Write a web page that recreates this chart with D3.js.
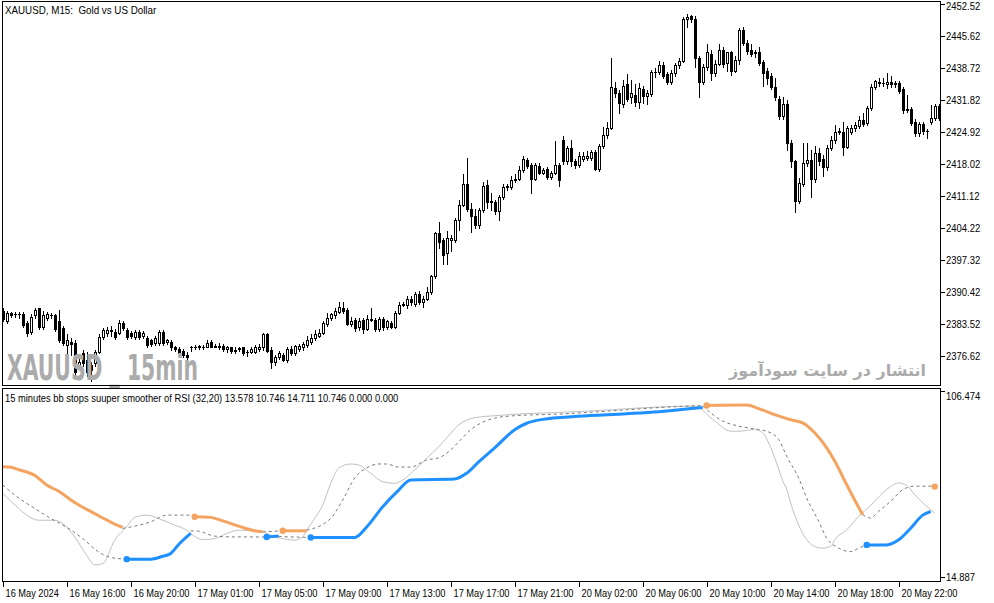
<!DOCTYPE html>
<html><head><meta charset="utf-8">
<script src="https://cdn.jsdelivr.net/npm/d3@7"></script>
<style>
html,body{margin:0;padding:0;background:#fff;}
svg{display:block;font-family:"Liberation Sans",Arial,sans-serif;}
text{white-space:pre;}
</style></head><body>
<svg id="c" width="994" height="603"></svg>
<script>
// ---------- DATA ----------
const symbolTitle = "XAUUSD, M15:  Gold vs US Dollar";
const indicatorTitle = "15 minutes bb stops suuper smoother of RSI (32,20) 13.578 10.746 14.711 10.746 0.000 0.000";
const watermarkLeft = "XAUUSD _ 15min";
const watermarkRight = "انتشار در سایت سودآموز";

const timeTickBars = [0,16,32,48,64,80,96,112,128,144,160,176,192,208,224];
const timeLabels = ["16 May 2024","16 May 16:00","16 May 20:00","17 May 01:00","17 May 05:00","17 May 09:00","17 May 13:00","17 May 17:00","17 May 21:00","20 May 02:00","20 May 06:00","20 May 10:00","20 May 14:00","20 May 18:00","20 May 22:00"];
const priceTicks = [2452.52,2445.62,2438.72,2431.82,2424.92,2418.02,2411.12,2404.22,2397.32,2390.42,2383.52,2376.62];
const indicatorTicks = [106.474,14.887];

// open, high, low, close per 15-minute bar
const ohlc = [
[2386.3,2387.0,2384.2,2384.6],[2384.2,2386.3,2383.7,2385.9],[2385.9,2386.1,2385.0,2385.5],[2385.7,2386.1,2385.0,2385.6],[2385.7,2386.1,2384.8,2385.6],
[2385.7,2386.1,2382.9,2383.3],[2383.7,2384.2,2380.9,2381.6],[2381.8,2385.7,2381.4,2385.0],[2385.3,2387.0,2384.8,2386.5],[2386.8,2387.0,2382.4,2382.9],
[2382.9,2386.3,2382.4,2385.5],[2384.8,2386.1,2384.4,2385.7],[2385.5,2385.9,2384.8,2385.4],[2385.3,2385.7,2382.0,2382.4],[2384.2,2386.5,2379.6,2380.1],
[2382.7,2383.1,2379.0,2379.4],[2379.0,2381.2,2375.1,2379.9],[2379.6,2380.5,2376.8,2379.2],[2379.4,2379.9,2372.5,2373.0],[2374.7,2376.2,2374.0,2375.3],
[2377.3,2377.9,2374.5,2375.1],[2375.8,2377.5,2372.3,2373.0],[2374.7,2375.3,2371.2,2373.6],[2375.1,2377.9,2374.5,2377.5],[2377.5,2381.2,2377.1,2380.7],
[2380.7,2382.7,2380.3,2382.2],[2381.6,2382.9,2380.9,2382.2],[2382.0,2383.1,2380.9,2382.1],[2381.8,2382.4,2380.3,2380.7],[2381.6,2384.4,2381.2,2383.7],
[2383.7,2384.2,2382.2,2382.7],[2382.2,2382.7,2380.3,2380.7],[2381.6,2382.0,2380.5,2380.9],[2380.7,2382.2,2380.3,2381.8],[2381.8,2382.2,2380.3,2380.7],
[2380.9,2382.0,2380.5,2381.6],[2380.5,2380.9,2378.6,2379.0],[2379.9,2380.3,2378.8,2379.2],[2379.4,2380.9,2379.0,2380.5],[2379.4,2382.2,2379.0,2381.8],
[2381.8,2382.2,2379.0,2379.4],[2379.6,2380.3,2379.2,2379.9],[2379.6,2380.1,2377.9,2378.4],[2378.4,2378.8,2377.7,2378.1],[2378.1,2378.6,2376.8,2377.3],
[2377.7,2378.1,2376.4,2376.8],[2376.8,2377.5,2375.8,2376.4],[2378.4,2378.8,2377.7,2378.5],[2378.6,2379.0,2378.1,2378.6],[2378.5,2379.0,2378.1,2378.7],
[2378.6,2379.0,2378.1,2378.6],[2378.6,2379.9,2378.4,2379.4],[2379.6,2379.9,2378.4,2378.6],[2378.6,2379.2,2378.4,2378.8],[2378.8,2379.4,2378.1,2378.6],
[2378.8,2379.2,2377.7,2378.1],[2378.1,2378.8,2377.5,2378.4],[2378.4,2378.6,2377.3,2377.7],[2377.7,2378.4,2377.1,2377.9],[2378.1,2378.6,2377.7,2378.2],
[2378.4,2378.6,2376.8,2377.3],[2377.5,2377.9,2376.6,2377.4],[2377.5,2378.6,2377.1,2378.1],[2377.5,2379.0,2377.1,2378.6],[2378.1,2379.2,2377.7,2378.6],
[2378.4,2381.6,2377.9,2381.2],[2381.2,2381.6,2377.5,2377.7],[2377.9,2378.6,2374.0,2375.3],[2375.3,2376.8,2374.7,2376.4],[2376.4,2377.7,2376.0,2377.1],
[2376.8,2377.3,2375.5,2375.8],[2375.8,2378.4,2375.3,2378.1],[2378.1,2378.8,2376.8,2377.1],[2377.3,2379.0,2376.8,2378.8],[2378.1,2379.2,2377.7,2378.8],
[2378.4,2379.6,2377.9,2379.2],[2379.0,2380.9,2378.6,2380.1],[2379.6,2381.2,2379.2,2380.5],[2380.5,2382.2,2380.1,2381.4],[2380.9,2382.4,2380.7,2381.6],
[2381.6,2384.2,2381.2,2383.7],[2383.5,2385.9,2383.1,2384.8],[2384.8,2385.9,2384.4,2385.7],[2385.5,2386.8,2384.8,2386.3],[2386.1,2388.1,2385.9,2387.2],
[2387.0,2388.1,2385.9,2386.3],[2386.5,2386.8,2383.3,2383.5],[2383.5,2385.0,2383.1,2384.2],[2384.4,2384.8,2382.0,2382.7],[2382.9,2384.8,2382.2,2384.2],
[2384.4,2384.8,2381.6,2382.4],[2382.4,2385.3,2382.2,2384.6],[2384.4,2387.0,2384.2,2384.5],[2384.4,2384.8,2382.0,2382.4],[2382.4,2385.0,2382.0,2384.6],
[2384.6,2385.0,2382.2,2382.9],[2382.9,2384.4,2382.4,2384.0],[2383.7,2384.2,2382.7,2382.9],[2382.9,2386.3,2382.7,2385.9],[2385.9,2388.1,2385.7,2387.6],
[2387.6,2388.1,2387.4,2387.8],[2387.6,2389.6,2387.0,2388.9],[2388.9,2389.6,2387.6,2388.1],[2387.8,2390.4,2387.4,2390.0],[2390.0,2390.6,2387.8,2388.3],
[2388.3,2389.6,2387.2,2388.9],[2388.9,2391.5,2388.7,2390.4],[2390.4,2394.1,2390.0,2393.7],[2393.7,2403.4,2393.4,2403.1],[2403.1,2405.5,2399.9,2401.2],
[2401.6,2402.1,2396.3,2398.4],[2398.8,2403.6,2396.3,2401.9],[2401.6,2402.7,2399.1,2402.1],[2401.6,2406.4,2401.2,2405.9],[2405.9,2410.3,2403.8,2409.2],
[2409.2,2415.9,2409.0,2413.7],[2413.7,2419.3,2407.9,2408.3],[2408.3,2409.6,2403.4,2406.8],[2406.8,2408.3,2404.2,2404.9],[2404.9,2408.5,2404.2,2408.1],
[2408.1,2414.1,2407.7,2413.3],[2413.5,2414.6,2408.5,2409.8],[2409.8,2411.6,2408.1,2409.9],[2409.8,2410.3,2407.2,2407.9],[2407.9,2411.3,2405.9,2410.9],
[2410.9,2413.7,2410.5,2413.1],[2412.9,2413.7,2412.4,2413.3],[2413.1,2415.4,2412.6,2414.6],[2414.6,2415.7,2414.1,2414.8],[2414.8,2417.6,2414.4,2416.7],
[2416.7,2419.7,2416.3,2419.1],[2418.9,2419.3,2417.2,2417.6],[2417.8,2418.2,2411.8,2414.8],[2414.8,2418.2,2414.4,2417.8],[2417.6,2418.2,2415.7,2416.1],
[2416.1,2417.2,2415.7,2416.7],[2416.9,2417.4,2414.8,2415.2],[2415.2,2416.5,2414.8,2416.1],[2416.1,2423.0,2415.7,2417.8],[2417.8,2418.2,2413.3,2414.4],
[2423.2,2424.1,2418.0,2418.5],[2418.5,2421.9,2418.0,2421.3],[2421.3,2423.2,2417.6,2418.5],[2418.7,2419.1,2417.2,2417.8],[2417.8,2420.6,2417.4,2419.7],
[2419.1,2420.6,2418.7,2419.7],[2419.3,2420.8,2418.9,2419.7],[2419.3,2421.0,2418.9,2420.6],[2420.6,2421.0,2416.7,2416.9],[2416.9,2422.3,2416.5,2421.9],
[2421.9,2426.0,2421.5,2424.3],[2424.3,2427.1,2423.6,2425.8],[2425.8,2440.9,2425.6,2434.6],[2434.4,2435.7,2432.5,2433.3],[2433.3,2434.0,2429.0,2431.2],
[2431.0,2436.1,2430.3,2434.8],[2435.1,2437.4,2431.6,2432.0],[2432.3,2436.1,2431.2,2433.3],[2432.9,2435.1,2430.5,2431.4],[2431.4,2435.5,2430.1,2434.4],
[2434.2,2434.8,2431.2,2432.7],[2432.7,2434.0,2431.0,2433.3],[2433.1,2438.3,2432.7,2437.9],[2437.9,2438.7,2436.8,2437.8],[2437.9,2440.2,2437.4,2439.4],
[2439.4,2440.0,2436.6,2437.0],[2437.4,2437.9,2435.1,2435.7],[2435.7,2438.3,2435.1,2437.6],[2437.6,2439.8,2437.0,2439.2],[2439.2,2440.9,2438.7,2440.2],
[2440.2,2449.7,2440.0,2449.3],[2449.3,2450.4,2447.6,2449.7],[2449.9,2450.1,2448.6,2449.3],[2449.3,2449.9,2438.9,2440.9],[2440.9,2441.3,2432.5,2435.7],
[2435.7,2439.6,2435.3,2438.9],[2438.9,2443.9,2438.3,2442.0],[2441.7,2442.6,2436.1,2437.6],[2437.6,2440.4,2437.0,2439.6],[2439.6,2443.9,2439.2,2442.6],
[2442.6,2443.2,2438.9,2439.6],[2439.8,2442.2,2438.1,2442.0],[2442.0,2442.4,2437.2,2438.1],[2438.1,2441.3,2437.9,2440.4],[2440.4,2447.3,2439.6,2446.9],
[2446.9,2447.6,2443.7,2444.1],[2444.1,2444.8,2441.7,2442.4],[2442.6,2443.9,2441.3,2441.7],[2442.0,2442.6,2441.1,2441.8],[2442.0,2443.2,2439.4,2439.8],
[2440.0,2440.4,2434.8,2437.6],[2438.1,2438.7,2435.1,2436.6],[2437.0,2437.6,2434.2,2434.6],[2434.6,2436.6,2431.8,2432.3],[2432.0,2432.7,2427.7,2428.2],
[2428.2,2432.3,2427.7,2431.0],[2431.0,2431.8,2421.0,2422.5],[2422.5,2423.2,2417.4,2418.5],[2418.5,2418.9,2407.7,2410.0],[2410.0,2415.0,2409.6,2413.9],
[2413.7,2422.5,2413.3,2418.2],[2418.2,2422.5,2417.6,2418.9],[2418.9,2421.0,2410.9,2414.8],[2414.8,2421.9,2414.1,2420.4],[2420.4,2421.5,2417.8,2418.5],
[2419.1,2420.0,2415.4,2417.4],[2417.4,2422.1,2416.7,2421.5],[2421.5,2424.1,2421.0,2423.2],[2423.2,2426.4,2422.5,2424.9],[2424.9,2425.8,2424.5,2425.1],
[2424.9,2427.1,2420.0,2421.7],[2421.7,2426.2,2421.3,2425.8],[2424.9,2426.4,2424.5,2425.8],[2425.8,2427.1,2425.1,2426.4],[2426.2,2428.4,2425.8,2427.5],
[2427.5,2429.0,2426.2,2426.6],[2426.9,2430.5,2426.4,2430.1],[2430.1,2435.3,2429.7,2434.6],[2434.6,2436.1,2434.2,2435.9],[2435.5,2436.4,2434.8,2435.7],
[2435.5,2436.6,2434.8,2435.4],[2435.1,2437.6,2434.4,2435.7],[2435.7,2437.0,2434.6,2435.1],[2435.1,2435.9,2434.6,2435.5],[2435.5,2435.9,2433.3,2433.8],
[2434.2,2434.6,2429.0,2429.7],[2429.9,2432.9,2429.2,2429.6],[2429.9,2430.3,2426.4,2426.9],[2427.1,2427.7,2424.1,2424.7],[2424.7,2427.1,2424.1,2426.6],
[2426.6,2427.1,2424.5,2425.1],[2425.1,2425.6,2423.6,2425.0],[2427.1,2430.7,2426.6,2427.9],[2427.9,2431.0,2427.5,2430.5],[2430.5,2431.0,2427.5,2427.9]
];

// indicator: smoothed RSI (solid grey), [bar, value]
const rsiSmoothed = [[0,56.1],[4,48.7],[6,45.4],[9,42.9],[13,42.9],[15,41.3],[18,34.7],[21,25.7],[23,21.0],[25,21.6],[28,33.1],[31,39.7],[33,44.3],[36,45.4],[40,42.9],[43,40.5],[46,38.0],[48,34.9],[50,33.4],[53,33.9],[56,36.4],[59,38.0],[63,37.7],[66,36.4],[68,34.7],[71,33.6],[73,33.1],[75,34.7],[76,38.0],[78,43.8],[80,50.3],[82,61.0],[84,68.4],[87,70.5],[89,70.0],[92,65.9],[95,61.8],[98,61.0],[100,62.6],[103,67.6],[106,73.3],[109,79.0],[111,83.3],[114,89.7],[118,93.2],[123,94.2],[131,95.2],[139,95.8],[152,97.1],[160,98.1],[173,98.9],[178,91.6],[182,86.6],[184,86.6],[188,87.4],[190,85.8],[192,78.5],[194,68.0],[195,62.2],[196,58.2],[197,51.3],[199,40.5],[200,36.5],[203,30.0],[205,29.2],[207,30.0],[208,33.3],[211,38.2],[214,44.8],[217,50.2],[220,56.3],[222,59.5],[224,61.2],[226,60.0],[228,55.4],[231,49.7],[233,46.4]];

// indicator: opposite band (dashed), one array per trend leg
const bandLegs = [
[[0,60.2],[3,55.3],[8,48.7],[12,43.8],[16,39.4],[20,33.9],[24,27.3],[27,24.6],[31,23.8]],
[[30,38.9],[33,40.0],[37,42.1],[41,45.4],[47,45.4],[48,44.6]],
[[47,37.7],[49,37.5],[53,35.1],[58,34.7],[66,34.7]],
[[65,37.2],[70,37.7]],
[[69,34.9],[77,34.4]],
[[76,38.0],[82,43.8],[85,52.8],[88,63.6],[91,68.6],[94,70.5],[96,70.5],[99,69.0],[102,69.0],[106,72.5],[109,73.5],[112,77.4],[114,81.4],[117,87.3],[123,93.0],[128,94.2],[139,95.0],[156,97.1],[164,98.2],[175,99.2]],
[[175,98.9],[180,91.6],[184,89.1],[189,87.4],[191,86.6],[194,82.5],[196,74.3],[199,63.6],[201,53.8],[204,42.3],[206,34.1],[209,29.2],[212,27.5],[214,29.2],[216,30.8]],
[[215,45.6],[217,44.0],[219,47.3],[222,52.2],[225,57.9],[228,59.6],[233,59.6]]
];

// indicator: stop line while trend is down
const stopDown = [
[[0,69.2],[2,68.9],[4,67.7],[8,64.9],[11,60.2],[14,57.1],[18,51.6],[21,48.2],[24,45.1],[28,41.0],[30,39.4]],
[[48,44.6],[52,44.3],[55,42.6],[59,40.0],[63,37.7],[65,37.2]],
[[70,37.7],[76,37.7]],
[[176,99.2],[186,99.4],[189,97.7],[193,94.7],[197,92.2],[200,90.7],[203,85.8],[206,78.4],[208,72.0],[211,60.3],[213,52.8],[215,45.6]],
[[233,59.4]]
];
// indicator: stop line while trend is up
const stopUp = [
[[31,23.8],[37,23.8],[40,25.2],[42,26.6],[44,31.0],[47,36.4]],
[[66,34.7],[69,35.1]],
[[77,34.4],[88,34.4],[91,39.6],[95,49.5],[99,57.7],[102,62.7],[113,63.1],[116,66.0],[119,71.5],[123,78.4],[128,87.3],[131,90.5],[135,92.4],[144,93.9],[156,95.2],[164,96.2],[175,98.2]],
[[216,30.8],[221,30.8],[224,33.3],[227,39.0],[230,45.4],[232,47.2]]
];

// ---------- DRAW ----------
const svg = d3.select("#c");
const FONT = 11;
const x = d3.scaleLinear().domain([0, 234]).range([2.7, 938.7]);
const yP = d3.scaleLinear().domain([2376.62, 2452.52]).range([355.7, 3.7]);
const yI = d3.scaleLinear().domain([14.887, 106.474]).range([577.3, 390.7]);

// narrow a text to mimic the terminal's compact UI font
function squeeze(sel, f){
  sel.each(function(){
    const len = this.getComputedTextLength();
    d3.select(this).attr("textLength", (len*f).toFixed(1)).attr("lengthAdjust","spacingAndGlyphs");
  });
  return sel;
}

const defs = svg.append("defs");
defs.append("clipPath").attr("id","clipMain").append("rect").attr("x",3).attr("y",2).attr("width",937).attr("height",383);
defs.append("clipPath").attr("id","clipInd").append("rect").attr("x",3).attr("y",389).attr("width",937).attr("height",192);

// candles
const gC = svg.append("g").attr("clip-path","url(#clipMain)").attr("shape-rendering","crispEdges");
ohlc.forEach((d,i)=>{
  const [o,h,l,c] = d;
  const cx = Math.round(x(i));
  const yh = Math.round(yP(h)), yl = Math.round(yP(l));
  const top = Math.round(yP(Math.max(o,c))), bot = Math.round(yP(Math.min(o,c)));
  gC.append("rect").attr("x",cx).attr("y",yh).attr("width",1).attr("height",Math.max(1,yl-yh+1)).attr("fill","#000");
  gC.append("rect").attr("x",cx-1).attr("y",top).attr("width",3).attr("height",Math.max(1,bot-top+1)).attr("fill","#000");
  if (c>o && bot-top>=2) {
    gC.append("rect").attr("x",cx).attr("y",top+1).attr("width",1).attr("height",bot-top-1).attr("fill","#fff");
  }
});

// watermarks
svg.append("text").attr("x",7).attr("y",380).text(watermarkLeft)
  .attr("font-family","'DejaVu Sans Condensed','DejaVu Sans',sans-serif").attr("font-weight","bold")
  .attr("font-size",35).attr("textLength",191).attr("lengthAdjust","spacingAndGlyphs").attr("fill","#ababab");
svg.append("text").attr("x",926).attr("y",376).text(watermarkRight)
  .attr("font-family","'DejaVu Sans',sans-serif").attr("font-weight","bold").attr("direction","rtl")
  .attr("text-anchor","start").attr("font-size",16).attr("fill","#ababab");

// indicator lines
const gI = svg.append("g").attr("clip-path","url(#clipInd)");
const line = d3.line().x(d=>x(d[0])).y(d=>yI(d[1])).curve(d3.curveMonotoneX);
gI.append("path").attr("d",line(rsiSmoothed)).attr("fill","none").attr("stroke","#c0c0c0").attr("stroke-width",1);
bandLegs.forEach(seg=>{
  gI.append("path").attr("d",line(seg)).attr("fill","none").attr("stroke","#7a7a7a").attr("stroke-width",1).attr("stroke-dasharray","3,3");
});
function drawStops(segs,color){
  segs.forEach(seg=>{
    if (seg.length>1) gI.append("path").attr("d",line(seg)).attr("fill","none").attr("stroke",color).attr("stroke-width",3).attr("stroke-linejoin","round");
    if (seg[0][0]>0) gI.append("circle").attr("cx",x(seg[0][0])).attr("cy",yI(seg[0][1])).attr("r",3.2).attr("fill",color);
  });
}
drawStops(stopDown,"#f4a460");
drawStops(stopUp,"#1e90ff");

// frames
const gF = svg.append("g").attr("shape-rendering","crispEdges").attr("fill","none").attr("stroke","#000");
gF.append("rect").attr("x",2.5).attr("y",1.5).attr("width",938).attr("height",384);
gF.append("rect").attr("x",2.5).attr("y",388.5).attr("width",938).attr("height",193);

// price axis
const gA = svg.append("g").attr("font-size",FONT).attr("fill","#000");
priceTicks.forEach((t,k)=>{
  const yy = Math.round(yP(t))+0.5;
  gA.append("line").attr("x1",941).attr("x2",945).attr("y1",yy).attr("y2",yy).attr("stroke","#000").attr("shape-rendering","crispEdges");
  squeeze(gA.append("text").attr("x",946).attr("y",k===0? yy+1.5 : yy).attr("dy","0.35em").text(t.toFixed(2)), 0.86);
});
indicatorTicks.forEach((t,k)=>{
  const yy = Math.round(yI(t))+0.5;
  gA.append("line").attr("x1",941).attr("x2",945).attr("y1",yy).attr("y2",yy).attr("stroke","#000").attr("shape-rendering","crispEdges");
  squeeze(gA.append("text").attr("x",946).attr("y",k===0? yy+4.5 : yy).attr("dy","0.35em").text(t.toFixed(3)), 0.86);
});
// time axis
timeTickBars.forEach((b,k)=>{
  const xx = Math.round(x(b))+0.5;
  gA.append("line").attr("x1",xx).attr("x2",xx).attr("y1",582).attr("y2",587).attr("stroke","#000").attr("shape-rendering","crispEdges");
  squeeze(gA.append("text").attr("x",xx+2).attr("y",597).text(timeLabels[k]), 0.84);
});
// titles
squeeze(gA.append("text").attr("x",5).attr("y",14).text(symbolTitle), 0.89);
squeeze(gA.append("text").attr("x",5).attr("y",402).text(indicatorTitle), 0.85);
</script>
</body></html>
